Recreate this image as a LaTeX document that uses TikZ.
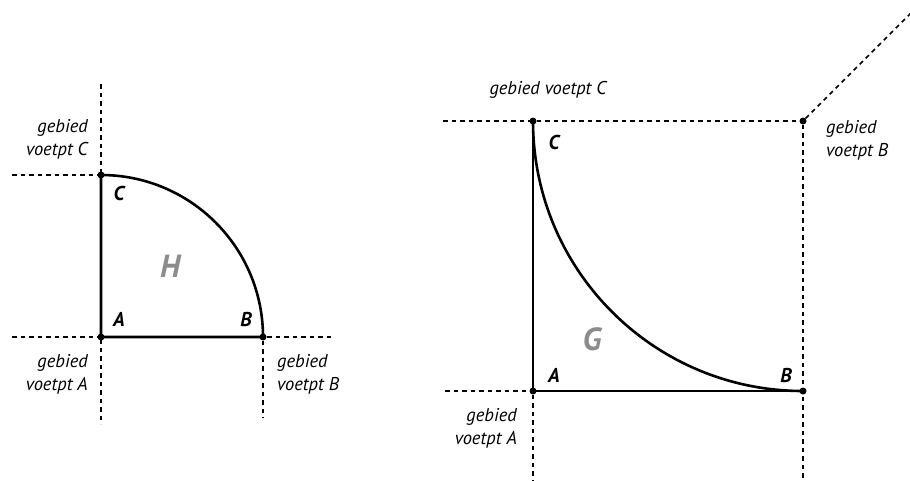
\documentclass[tikz,border=0pt]{standalone}
\usepackage{fontspec}
\setmainfont{PT Sans}
\begin{document}
\begin{tikzpicture}[x=1pt,y=-1pt,
  dot/.style={circle,fill=black,inner sep=0pt,minimum size=7pt},
  guide/.style={line width=1.7pt,dash pattern=on 4.5pt off 4pt},
  edge/.style={line width=2.6pt},
  region/.style={font=\fontsize{18.5}{23}\selectfont\itshape,inner sep=0pt},
  corner/.style={font=\fontsize{20}{20}\selectfont\bfseries\itshape,inner sep=0pt},
  area/.style={font=\fontsize{32}{32}\selectfont\bfseries\itshape,text=black!45,inner sep=0pt}]
\useasboundingbox (0,0) rectangle (910,480);
% ---------- left figure ----------
\node[dot] (A1) at (101,337) {};
\node[dot] (B1) at (263,337) {};
\node[dot] (C1) at (101,175) {};
\coordinate (A1top) at (101,84);
\coordinate (A1bot) at (101,424);
\coordinate (A1left) at (12,337);
\coordinate (B1right) at (334,337);
\coordinate (C1left) at (12,175);
\coordinate (B1bot) at (263,418);
\draw[guide] (A1top) -- (A1bot);
\draw[guide] (A1left) -- (B1right);
\draw[guide] (C1left) -- (C1);
\draw[guide] (B1) -- (B1bot);
\draw[edge] (C1.center) -- (A1.center) -- (B1.center) arc[start angle=0,end angle=-90,radius=162];
\node[corner] (lc1) at (119,193) {C};
\node[corner] (la1) at (119,319) {A};
\node[corner] (lb1) at (246,319) {B};
\node[area] (H) at (170,266) {H};
\node[region,align=right,anchor=east] (tc1) at (88,139) {gebied\\voetpt C};
\node[region,align=right,anchor=east] (ta1) at (88,374) {gebied\\voetpt A};
\node[region,align=left,anchor=west] (tb1) at (277,374) {gebied\\voetpt B};
% ---------- right figure ----------
\node[dot] (A2) at (533,391) {};
\node[dot] (B2) at (803,391) {};
\node[dot] (C2) at (533,121) {};
\node[dot] (D2) at (803,121) {};
\coordinate (C2left) at (443,121);
\coordinate (A2left) at (445,391);
\coordinate (A2bot) at (533,482);
\coordinate (D2bot) at (803,482);
\coordinate (D2far) at (911,13);
\draw[guide] (C2left) -- (D2);
\draw[guide] (A2left) -- (A2);
\draw[guide] (A2) -- (A2bot);
\draw[guide] (D2) -- (D2bot);
\draw[guide] (D2) -- (D2far);
\draw[edge] (C2.center) -- (A2.center) -- (B2.center);
\draw[edge] (C2.center) arc[start angle=180,end angle=90,radius=270];
\node[corner] (lc2) at (554,142) {C};
\node[corner] (la2) at (554,375) {A};
\node[corner] (lb2) at (786,375) {B};
\node[area] (G) at (592,339) {G};
\node[region] (tc2) at (548,90) {gebied voetpt C};
\node[region,align=left,anchor=west] (tb2) at (826,140) {gebied\\voetpt B};
\node[region,align=right,anchor=east] (ta2) at (517,428) {gebied\\voetpt A};
\end{tikzpicture}
\end{document}
